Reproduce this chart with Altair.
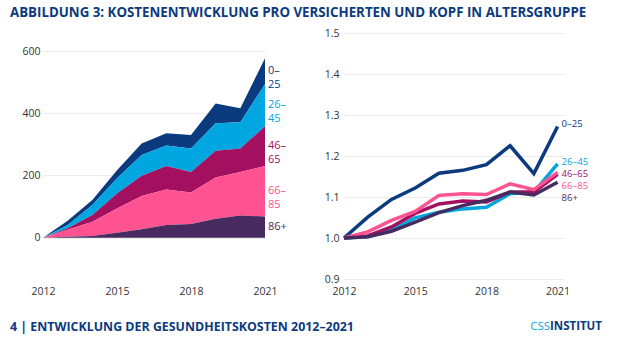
import altair as alt
import pandas as pd

# ---------------- data ----------------
years = list(range(2012, 2022))
groups = ["0–25", "26–45", "46–65", "66–85", "86+"]
colors = ["#0b3a7e", "#00a6e0", "#a3105f", "#ff5290", "#472a5f"]

# left panel: cumulative cost increase (stacked areas)
cost_0_25 = [0, 13, 16, 26, 37, 40, 43, 63, 45, 83]
cost_26_45 = [0, 11, 32, 49, 67, 66, 76, 89, 84, 136]
cost_46_65 = [0, 5, 22, 48, 65, 75, 66, 86, 76, 128]
cost_66_85 = [0, 22, 46, 78, 107, 114, 101, 132, 140, 162]
cost_86 = [0, 3, 5, 16, 27, 41, 44, 61, 71, 68]

# right panel: index (2012 = 1.0)
idx_0_25 = [1.0, 1.051, 1.094, 1.122, 1.158, 1.165, 1.179, 1.225, 1.157, 1.272]
idx_26_45 = [1.0, 1.003, 1.019, 1.049, 1.063, 1.071, 1.075, 1.108, 1.112, 1.181]
idx_46_65 = [1.0, 1.005, 1.027, 1.060, 1.083, 1.090, 1.088, 1.112, 1.112, 1.155]
idx_66_85 = [1.0, 1.015, 1.043, 1.065, 1.104, 1.108, 1.106, 1.132, 1.118, 1.160]
idx_86 = [1.0, 1.003, 1.016, 1.039, 1.062, 1.079, 1.092, 1.112, 1.105, 1.136]

x_ticks = [2012, 2015, 2018, 2021]
left_ticks = [0, 200, 400, 600]
right_ticks = [0.9, 1.0, 1.1, 1.2, 1.3, 1.4, 1.5]

TITLE = "ABBILDUNG 3: KOSTENENTWICKLUNG PRO VERSICHERTEN UND KOPF IN ALTERSGRUPPE"
FOOTER = "4 | ENTWICKLUNG DER GESUNDHEITSKOSTEN 2012–2021"
BRAND_A = "CSS"
BRAND_B = "INSTITUT"

cost = dict(zip(groups, [cost_0_25, cost_26_45, cost_46_65, cost_66_85, cost_86]))
index = dict(zip(groups, [idx_0_25, idx_26_45, idx_46_65, idx_66_85, idx_86]))

FONT = "Open Sans"
NAVY = "#0b3a7e"
CYAN = "#00a6e0"

rows = []
for gi, g in enumerate(groups):
    for y, c, ix in zip(years, cost[g], index[g]):
        rows.append(dict(year=y, group=g, cost=c, idx=ix, stack_order=len(groups) - 1 - gi))
df = pd.DataFrame(rows)

# labels for stacked bands: middle of band in last year
lab_left = []
base = 0
for g in reversed(groups):
    v = cost[g][-1]
    lab_left.append(dict(group=g, year=years[-1], y=base + v / 2,
                         label=g.replace("–", "–\n")))
    base += v
lab_left = pd.DataFrame(lab_left)

# labels for lines: last value, pushed down to avoid overlap
lab_right = []
prev = None
gap = 0.0295
for g in groups:
    v = index[g][-1]
    if prev is not None:
        v = min(v, prev - gap)
    prev = v
    lab_right.append(dict(group=g, year=years[-1], y=v, label=g))
lab_right = pd.DataFrame(lab_right)

color_scale = alt.Scale(domain=groups, range=colors)

axis_common = dict(domain=False, ticks=False, labelFont=FONT, labelFontSize=10.5,
                   labelColor="#333333", title=None)

x_left = alt.X("year:Q", scale=alt.Scale(domain=[2012, 2021], nice=False, zero=False),
               axis=alt.Axis(values=x_ticks, format="d", grid=False, labelPadding=7,
                             labelFlush=False, **axis_common))

areas = alt.Chart(df).mark_area().encode(
    x=x_left,
    y=alt.Y("cost:Q", stack="zero",
            scale=alt.Scale(domain=[-133, 658], nice=False, zero=False),
            axis=alt.Axis(values=left_ticks, grid=True, gridColor="#ebebeb", labelPadding=3,
                          **axis_common)),
    color=alt.Color("group:N", scale=color_scale, legend=None),
    order=alt.Order("stack_order:Q", sort="ascending"),
)

left_labels = alt.Chart(lab_left).mark_text(
    align="left", baseline="middle", dx=3, font=FONT, fontSize=11, lineBreak="\n",
    lineHeight=14
).encode(
    x="year:Q", y="y:Q",
    text="label:N",
    color=alt.Color("group:N", scale=color_scale, legend=None),
)

one = pd.DataFrame({"t": [TITLE], "f": [FOOTER], "a": [BRAND_A], "b": [BRAND_B]})
title_mark = alt.Chart(one).mark_text(
    align="left", baseline="middle", font=FONT, fontSize=13.3, fontWeight="bold", color=NAVY
).encode(x=alt.value(-33), y=alt.value(-20), text="t:N")
footer_mark = alt.Chart(one).mark_text(
    align="left", baseline="middle", font=FONT, fontSize=12.4, fontWeight="bold", color=NAVY
).encode(x=alt.value(-33), y=alt.value(294), text="f:N")
brand_a = alt.Chart(one).mark_text(
    align="right", baseline="middle", font=FONT, fontSize=11.5, color=CYAN
).encode(x=alt.value(507), y=alt.value(294), text="a:N")
brand_b = alt.Chart(one).mark_text(
    align="left", baseline="middle", font=FONT, fontSize=11.5, fontWeight="bold", color=NAVY
).encode(x=alt.value(507), y=alt.value(294), text="b:N")
# invisible frame fixing the canvas to 640 x 357
frame = alt.Chart(one).mark_rule(strokeOpacity=0).encode(
    x=alt.value(-43), x2=alt.value(597), y=alt.value(-33), y2=alt.value(324)
)

left = alt.layer(frame, areas, left_labels, title_mark, footer_mark, brand_a, brand_b).properties(
    width=222, height=246
)

lines = alt.Chart(df).mark_line(strokeWidth=3.5).encode(
    x=alt.X("year:Q", scale=alt.Scale(domain=[2012, 2021.27], nice=False, zero=False),
            axis=alt.Axis(values=x_ticks, format="d", grid=False, labelPadding=7,
                          labelFlush=False, **axis_common)),
    y=alt.Y("idx:Q", scale=alt.Scale(domain=[0.9, 1.5], nice=False, zero=False),
            axis=alt.Axis(values=right_ticks, format=".1f", grid=True, gridColor="#ebebeb",
                          labelPadding=5, **axis_common)),
    color=alt.Color("group:N", scale=color_scale, legend=None),
    order=alt.Order("year:Q"),
)

right_labels = alt.Chart(lab_right).mark_text(
    align="left", baseline="middle", dx=4, dy=-2, font=FONT, fontSize=9.5
).encode(
    x="year:Q", y="y:Q", text="label:N",
    color=alt.Color("group:N", scale=color_scale, legend=None),
)

right = alt.layer(lines, right_labels).properties(width=220, height=246)

chart = alt.hconcat(left, right, spacing=79, bounds="flush").properties(
    padding=0, background="white"
).configure_view(stroke=None)

chart.save("out.html", embed_options={"renderer": "svg", "actions": False})
